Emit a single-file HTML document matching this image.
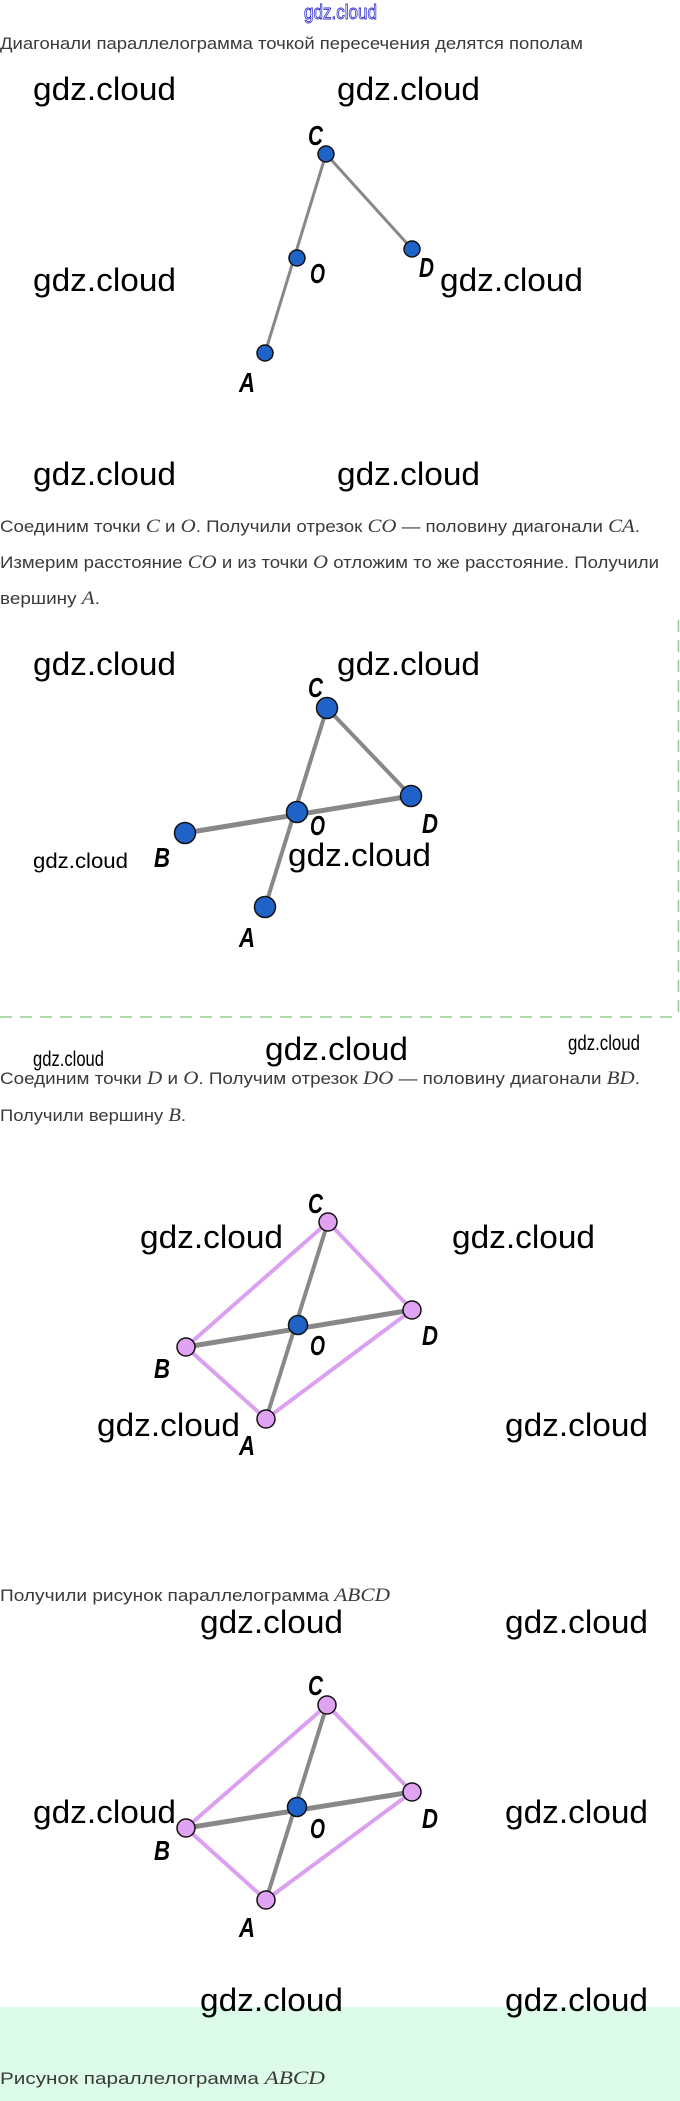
<!DOCTYPE html>
<html><head><meta charset="utf-8"><style>
html,body{margin:0;padding:0;background:#fff;}
svg{display:block;}
.t{font-family:"Liberation Sans",sans-serif;font-size:17px;fill:#3a3a3a;}
.m{font-family:"Liberation Serif",serif;font-style:italic;font-size:19px;}
.w{font-family:"Liberation Sans",sans-serif;font-size:32px;fill:#000;}
.ws{font-family:"Liberation Sans",sans-serif;font-size:21px;fill:#000;}
.l{font-family:"Liberation Sans",sans-serif;font-size:28px;font-weight:bold;font-style:italic;fill:#000;}
</style></head><body>
<svg width="680" height="2101" viewBox="0 0 680 2101" xmlns="http://www.w3.org/2000/svg">
<rect x="0" y="2007" width="680" height="94" fill="#dcfbe8"/>
<text x="304" y="19" font-family="Liberation Sans,sans-serif" font-size="20" fill="#fff" stroke="#3333cc" stroke-width="0.9" textLength="73" lengthAdjust="spacingAndGlyphs">gdz.cloud</text>
<text class="t" x="0" y="49" textLength="583" lengthAdjust="spacingAndGlyphs">Диагонали параллелограмма точкой пересечения делятся пополам</text>

<!-- section 1 -->
<g>
<text class="w" x="33" y="100" textLength="143" lengthAdjust="spacingAndGlyphs">gdz.cloud</text>
<text class="w" x="337" y="100" textLength="143" lengthAdjust="spacingAndGlyphs">gdz.cloud</text>
<text class="w" x="33" y="291" textLength="143" lengthAdjust="spacingAndGlyphs">gdz.cloud</text>
<text class="w" x="440" y="291" textLength="143" lengthAdjust="spacingAndGlyphs">gdz.cloud</text>
<text class="w" x="33" y="485" textLength="143" lengthAdjust="spacingAndGlyphs">gdz.cloud</text>
<text class="w" x="337" y="485" textLength="143" lengthAdjust="spacingAndGlyphs">gdz.cloud</text>
<line x1="326" y1="154" x2="265" y2="353" stroke="#888" stroke-width="3"/>
<line x1="326" y1="154" x2="412" y2="249" stroke="#888" stroke-width="3"/>
<circle cx="326" cy="154" r="8" fill="#1f63c8" stroke="#111" stroke-width="1.5"/>
<circle cx="297" cy="258" r="8" fill="#1f63c8" stroke="#111" stroke-width="1.5"/>
<circle cx="412" cy="249" r="8" fill="#1f63c8" stroke="#111" stroke-width="1.5"/>
<circle cx="265" cy="353" r="8" fill="#1f63c8" stroke="#111" stroke-width="1.5"/>
<text class="l" x="308" y="145" textLength="15" lengthAdjust="spacingAndGlyphs">C</text>
<text class="l" x="310" y="283" textLength="15" lengthAdjust="spacingAndGlyphs">O</text>
<text class="l" x="419" y="277" textLength="15" lengthAdjust="spacingAndGlyphs">D</text>
<text class="l" x="239" y="392" textLength="16" lengthAdjust="spacingAndGlyphs">A</text>
</g>

<!-- section 2 -->
<text class="t" x="0" y="532" textLength="640" lengthAdjust="spacingAndGlyphs">Соединим точки <tspan class="m">C</tspan> и <tspan class="m">O</tspan>. Получили отрезок <tspan class="m">CO</tspan> — половину диагонали <tspan class="m">CA</tspan>.</text>
<text class="t" x="0" y="568" textLength="659" lengthAdjust="spacingAndGlyphs">Измерим расстояние <tspan class="m">CO</tspan> и из точки <tspan class="m">O</tspan> отложим то же расстояние. Получили</text>
<text class="t" x="0" y="604" textLength="100" lengthAdjust="spacingAndGlyphs">вершину <tspan class="m">A</tspan>.</text>
<text class="w" x="33" y="675" textLength="143" lengthAdjust="spacingAndGlyphs">gdz.cloud</text>
<text class="w" x="337" y="675" textLength="143" lengthAdjust="spacingAndGlyphs">gdz.cloud</text>
<line x1="327" y1="708" x2="265" y2="907" stroke="#888" stroke-width="4"/>
<line x1="327" y1="708" x2="411" y2="796" stroke="#888" stroke-width="4"/>
<line x1="185" y1="833" x2="411" y2="796" stroke="#888" stroke-width="5"/>
<circle cx="327" cy="708" r="10.5" fill="#1f63c8" stroke="#111" stroke-width="1.5"/>
<circle cx="297" cy="812" r="10.5" fill="#1f63c8" stroke="#111" stroke-width="1.5"/>
<circle cx="411" cy="796" r="10.5" fill="#1f63c8" stroke="#111" stroke-width="1.5"/>
<circle cx="185" cy="833" r="10.5" fill="#1f63c8" stroke="#111" stroke-width="1.5"/>
<circle cx="265" cy="907" r="10.5" fill="#1f63c8" stroke="#111" stroke-width="1.5"/>
<text class="l" x="308" y="697" textLength="15" lengthAdjust="spacingAndGlyphs">C</text>
<text class="l" x="310" y="835" textLength="15" lengthAdjust="spacingAndGlyphs">O</text>
<text class="l" x="422" y="833" textLength="16" lengthAdjust="spacingAndGlyphs">D</text>
<text class="l" x="154" y="867" textLength="16" lengthAdjust="spacingAndGlyphs">B</text>
<text class="l" x="239" y="947" textLength="16" lengthAdjust="spacingAndGlyphs">A</text>
<text class="ws" x="33" y="868" textLength="95" lengthAdjust="spacingAndGlyphs">gdz.cloud</text>
<text class="w" x="288" y="866" textLength="143" lengthAdjust="spacingAndGlyphs">gdz.cloud</text>
<line x1="0" y1="1017" x2="680" y2="1017" stroke="#8fd08f" stroke-width="1.5" stroke-dasharray="12,8"/>
<line x1="678.5" y1="620" x2="678.5" y2="1017" stroke="#8fd08f" stroke-width="1.5" stroke-dasharray="12,8"/>

<!-- section 3 -->
<text class="ws" x="33" y="1066" font-size="19" textLength="71" lengthAdjust="spacingAndGlyphs">gdz.cloud</text>
<text class="w" x="265" y="1060" textLength="143" lengthAdjust="spacingAndGlyphs">gdz.cloud</text>
<text class="ws" x="568" y="1050" font-size="18" textLength="72" lengthAdjust="spacingAndGlyphs">gdz.cloud</text>
<text class="t" x="0" y="1084" textLength="640" lengthAdjust="spacingAndGlyphs">Соединим точки <tspan class="m">D</tspan> и <tspan class="m">O</tspan>. Получим отрезок <tspan class="m">DO</tspan> — половину диагонали <tspan class="m">BD</tspan>.</text>
<text class="t" x="0" y="1121" textLength="186" lengthAdjust="spacingAndGlyphs">Получили вершину <tspan class="m">B</tspan>.</text>
<text class="w" x="140" y="1248" textLength="143" lengthAdjust="spacingAndGlyphs">gdz.cloud</text>
<text class="w" x="452" y="1248" textLength="143" lengthAdjust="spacingAndGlyphs">gdz.cloud</text>
<text class="w" x="97" y="1436" textLength="143" lengthAdjust="spacingAndGlyphs">gdz.cloud</text>
<text class="w" x="505" y="1436" textLength="143" lengthAdjust="spacingAndGlyphs">gdz.cloud</text>
<polygon points="328,1222 412,1310 266,1419 186,1347" fill="none" stroke="#dca0f0" stroke-width="4"/>
<line x1="328" y1="1222" x2="266" y2="1419" stroke="#888" stroke-width="4"/>
<line x1="186" y1="1347" x2="412" y2="1310" stroke="#888" stroke-width="5"/>
<circle cx="328" cy="1222" r="9" fill="#e0a3f2" stroke="#111" stroke-width="1.5"/>
<circle cx="412" cy="1310" r="9" fill="#e0a3f2" stroke="#111" stroke-width="1.5"/>
<circle cx="186" cy="1347" r="9" fill="#e0a3f2" stroke="#111" stroke-width="1.5"/>
<circle cx="266" cy="1419" r="9" fill="#e0a3f2" stroke="#111" stroke-width="1.5"/>
<circle cx="298" cy="1325" r="9.5" fill="#1f63c8" stroke="#111" stroke-width="1.5"/>
<text class="l" x="308" y="1213" textLength="15" lengthAdjust="spacingAndGlyphs">C</text>
<text class="l" x="310" y="1355" textLength="15" lengthAdjust="spacingAndGlyphs">O</text>
<text class="l" x="422" y="1345" textLength="16" lengthAdjust="spacingAndGlyphs">D</text>
<text class="l" x="154" y="1378" textLength="16" lengthAdjust="spacingAndGlyphs">B</text>
<text class="l" x="239" y="1455" textLength="16" lengthAdjust="spacingAndGlyphs">A</text>

<!-- section 4 -->
<text class="t" x="0" y="1601" textLength="390" lengthAdjust="spacingAndGlyphs">Получили рисунок параллелограмма <tspan class="m">ABCD</tspan></text>
<text class="w" x="200" y="1633" textLength="143" lengthAdjust="spacingAndGlyphs">gdz.cloud</text>
<text class="w" x="505" y="1633" textLength="143" lengthAdjust="spacingAndGlyphs">gdz.cloud</text>
<text class="w" x="33" y="1823" textLength="143" lengthAdjust="spacingAndGlyphs">gdz.cloud</text>
<text class="w" x="505" y="1823" textLength="143" lengthAdjust="spacingAndGlyphs">gdz.cloud</text>
<text class="w" x="200" y="2011" textLength="143" lengthAdjust="spacingAndGlyphs">gdz.cloud</text>
<text class="w" x="505" y="2011" textLength="143" lengthAdjust="spacingAndGlyphs">gdz.cloud</text>
<polygon points="327,1705 412,1792 266,1900 186,1828" fill="none" stroke="#dca0f0" stroke-width="4"/>
<line x1="327" y1="1705" x2="266" y2="1900" stroke="#888" stroke-width="4"/>
<line x1="186" y1="1828" x2="412" y2="1792" stroke="#888" stroke-width="5"/>
<circle cx="327" cy="1705" r="9" fill="#e0a3f2" stroke="#111" stroke-width="1.5"/>
<circle cx="412" cy="1792" r="9" fill="#e0a3f2" stroke="#111" stroke-width="1.5"/>
<circle cx="186" cy="1828" r="9" fill="#e0a3f2" stroke="#111" stroke-width="1.5"/>
<circle cx="266" cy="1900" r="9" fill="#e0a3f2" stroke="#111" stroke-width="1.5"/>
<circle cx="297" cy="1807" r="9.5" fill="#1f63c8" stroke="#111" stroke-width="1.5"/>
<text class="l" x="308" y="1695" textLength="15" lengthAdjust="spacingAndGlyphs">C</text>
<text class="l" x="310" y="1838" textLength="15" lengthAdjust="spacingAndGlyphs">O</text>
<text class="l" x="422" y="1828" textLength="16" lengthAdjust="spacingAndGlyphs">D</text>
<text class="l" x="154" y="1860" textLength="16" lengthAdjust="spacingAndGlyphs">B</text>
<text class="l" x="239" y="1937" textLength="16" lengthAdjust="spacingAndGlyphs">A</text>
<text class="t" x="0" y="2084" textLength="325" lengthAdjust="spacingAndGlyphs">Рисунок параллелограмма <tspan class="m">ABCD</tspan></text>
</svg>
</body></html>
